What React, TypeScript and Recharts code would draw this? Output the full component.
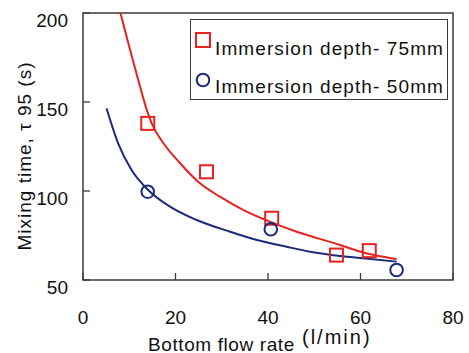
import React from 'react';
import { ComposedChart, Line, Scatter, XAxis, YAxis, ReferenceArea, Legend } from 'recharts';

const xTicks = [0, 20, 40, 60, 80];
const yTicks = [50, 100, 150, 200];

const label75 = 'Immersion depth- 75mm';
const label50 = 'Immersion depth- 50mm';

const depth75Points = [
  { x: 14.0, y: 138 },
  { x: 26.7, y: 110.8 },
  { x: 40.8, y: 84.7 },
  { x: 54.8, y: 64 },
  { x: 61.9, y: 66.5 },
];
const depth50Points = [
  { x: 14.0, y: 99.6 },
  { x: 40.6, y: 78.5 },
  { x: 67.8, y: 55.6 },
];

const depth75Fit = [
  { x: 8.1, y: 200 },
  { x: 9.8, y: 183 },
  { x: 11.75, y: 164.2 },
  { x: 13.8, y: 145.5 },
  { x: 14.85, y: 138 },
  { x: 17.4, y: 126.8 },
  { x: 21.0, y: 115.6 },
  { x: 25.3, y: 104.3 },
  { x: 29.6, y: 96.8 },
  { x: 34.7, y: 89.3 },
  { x: 40.4, y: 82.8 },
  { x: 46.2, y: 77.1 },
  { x: 55.6, y: 69.7 },
  { x: 60.6, y: 65.4 },
  { x: 67.8, y: 61.7 },
];
const depth50Fit = [
  { x: 5.1, y: 146.4 },
  { x: 7.6, y: 126.8 },
  { x: 10.5, y: 111.8 },
  { x: 14.1, y: 100.6 },
  { x: 18.8, y: 91.2 },
  { x: 24.6, y: 83.7 },
  { x: 31.8, y: 77.1 },
  { x: 37.6, y: 72.5 },
  { x: 44.0, y: 68.7 },
  { x: 49.1, y: 65.9 },
  { x: 55.6, y: 63.5 },
  { x: 60.6, y: 62.2 },
  { x: 67.8, y: 60.3 },
];

const RED = '#e8221e';
const BLUE = '#1c2a7c';
const FRAME = '#3a3a3a';
const TEXT = '#111';
const FONT = '"Liberation Sans", Arial, sans-serif';

const YTick = (props: any) => {
  const { x, y, payload } = props;
  return (
    <g>
      <line x1={x} x2={x + 7} y1={y} y2={y} stroke={FRAME} strokeWidth={1.3} />
      <text x={x - 15} y={y + 7} textAnchor="end" dominantBaseline="central" fontSize={19} fill={TEXT} fontFamily={FONT}>
        {payload.value}
      </text>
    </g>
  );
};

const XTick = (props: any) => {
  const { x, y, payload } = props;
  return (
    <g>
      <line x1={x} x2={x} y1={y} y2={y - 7} stroke={FRAME} strokeWidth={1.3} />
      <text x={x} y={y + 37} textAnchor="middle" dominantBaseline="central" fontSize={19} fill={TEXT} fontFamily={FONT}>
        {payload.value}
      </text>
    </g>
  );
};

const Square = (props: any) => {
  const { cx, cy } = props;
  return <rect x={cx - 6.5} y={cy - 6.5} width={13} height={13} fill="none" stroke={RED} strokeWidth={2} />;
};
const Circle = (props: any) => {
  const { cx, cy } = props;
  return <circle cx={cx} cy={cy} r={6.3} fill="none" stroke={BLUE} strokeWidth={2} />;
};

const LegendBox = () => (
  <div style={{ width: 258, height: 81, boxSizing: 'border-box', border: `1.3px solid ${FRAME}`, background: '#fff' }}>
    <svg width={256} height={79} style={{ display: 'block' }}>
      <rect x={5} y={13} width={14} height={14} fill="none" stroke={RED} strokeWidth={2} />
      <text x={24} y={28} dominantBaseline="central" fontSize={19} letterSpacing={1.1} fill={TEXT} fontFamily={FONT}>{label75}</text>
      <circle cx={12} cy={60} r={6.3} fill="none" stroke={BLUE} strokeWidth={2} />
      <text x={24} y={66} dominantBaseline="central" fontSize={19} letterSpacing={1.1} fill={TEXT} fontFamily={FONT}>{label50}</text>
    </svg>
  </div>
);

export default function App() {
  return (
    <div style={{ position: 'absolute', left: 0, top: 0, background: '#fff' }}>
      <ComposedChart width={469} height={353} margin={{ top: 13, right: 16, left: 0, bottom: 0 }}>
        <XAxis
          type="number"
          dataKey="x"
          domain={[0, 80]}
          ticks={xTicks}
          height={73}
          axisLine={false}
          tickLine={false}
          tickSize={0}
          tickMargin={0}
          tick={<XTick />}
          interval={0}
          label={{
            content: () => (
              <g fontFamily={FONT} fill={TEXT}>
                <text x={148} y={344} dominantBaseline="central" fontSize={19} letterSpacing={0.6}>Bottom flow rate</text>
                <text x={302} y={337} dominantBaseline="central" fontSize={20} letterSpacing={2}>(l/min)</text>
              </g>
            ),
          }}
        />
        <YAxis
          type="number"
          domain={[50, 200]}
          ticks={yTicks}
          width={83}
          allowDataOverflow
          axisLine={false}
          tickLine={false}
          tickSize={0}
          tickMargin={0}
          tick={<YTick />}
          interval={0}
          label={{
            content: () => (
              <text
                x={24}
                y={156}
                transform="rotate(-90, 24, 156)"
                textAnchor="middle"
                dominantBaseline="central"
                fontSize={19}
                letterSpacing={1}
                fill={TEXT}
                fontFamily={FONT}
              >
                Mixing time, τ 95  (s)
              </text>
            ),
          }}
        />
        <ReferenceArea x1={0} x2={80} y1={50} y2={200} fill="none" stroke={FRAME} strokeWidth={1.5} fillOpacity={0} />
        <Line data={depth75Fit} dataKey="y" type="monotone" stroke={RED} strokeWidth={2} dot={false} isAnimationActive={false} legendType="none" />
        <Line data={depth50Fit} dataKey="y" type="monotone" stroke={BLUE} strokeWidth={2} dot={false} isAnimationActive={false} legendType="none" />
        <Scatter name={label75} data={depth75Points} dataKey="y" shape={<Square />} isAnimationActive={false} />
        <Scatter name={label50} data={depth50Points} dataKey="y" shape={<Circle />} isAnimationActive={false} />
        <Legend
          layout="horizontal"
          verticalAlign="middle"
          align="center"
          wrapperStyle={{ top: 19, left: 190, width: 258, height: 81 }}
          content={() => <LegendBox />}
        />
      </ComposedChart>
    </div>
  );
}
